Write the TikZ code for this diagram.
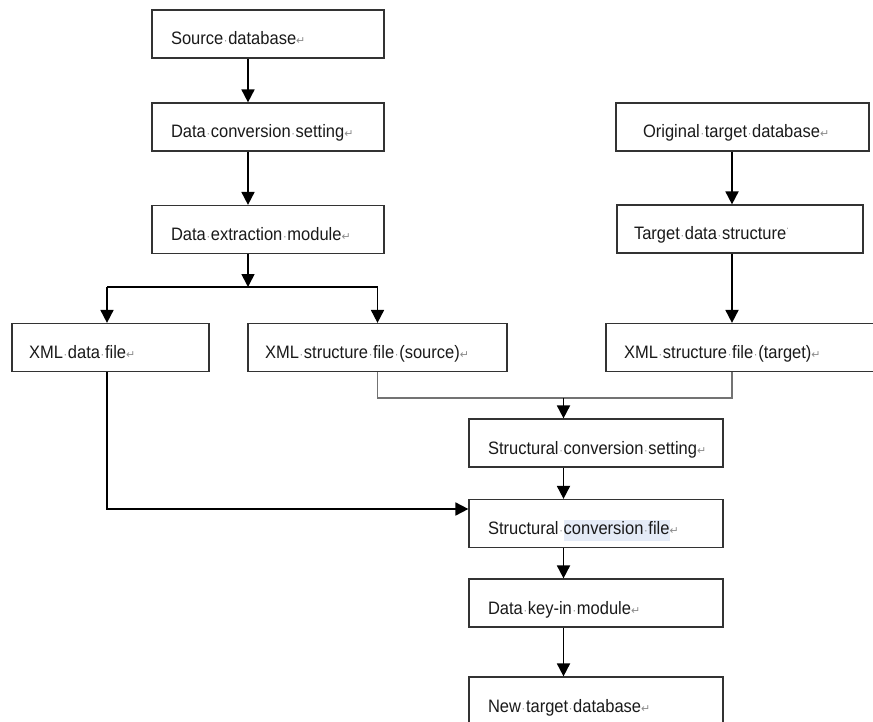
\documentclass[tikz,border=0pt]{standalone}
\usepackage{fontspec}
\setmainfont{Liberation Sans}[FakeStretch=0.917]
\newfontfamily\symfnt{DejaVu Sans}
\usetikzlibrary{arrows.meta}
\definecolor{marks}{gray}{0.55}
\definecolor{txt}{HTML}{1A1A1A}
\definecolor{hlite}{RGB}{228,235,247}
\newcommand\wsp{\makebox[0.278em]{\textcolor{marks}{\fontsize{12}{12}\selectfont ·}}}
\newcommand\retm{\textcolor{marks}{\symfnt\fontsize{11}{11}\selectfont ↵}}
\newcommand\topdot{\textcolor{marks}{\raisebox{0.45em}{\fontsize{10}{10}\selectfont ·}}}
\begin{document}
\begin{tikzpicture}[x=1pt,y=-1pt,
  box/.style={draw=black!80, line width=1.2pt, fill=white, inner ysep=0pt,
    text height=35pt, text depth=13pt, align=left, text=txt,
    font=\fontsize{18}{21}\selectfont},
  arr/.style={draw=black, line width=1.8pt, -{Triangle[length=13pt,width=13pt]}},
  blk/.style={draw=black, line width=1.8pt},
  gline/.style={draw=black!55, line width=1.4pt}]
\useasboundingbox (0,0) rectangle (873,722);
\clip (0,0) rectangle (873,722);
\fill[white] (0,0) rectangle (873,722);

% column coordinates
\coordinate (colL) at (248,0);
\coordinate (colX) at (107,0);
\coordinate (colR) at (732,0);
\coordinate (colM) at (563.5,0);
\coordinate (split) at (248,287);
\coordinate (merge) at (563.5,398);

% left column
\node[box, text width=194pt, inner xsep=19pt] (sd)  at (268,34)    {Source\wsp database\retm};
\node[box, text width=194pt, inner xsep=19pt] (dcs) at (268,127)   {Data\wsp conversion\wsp setting\retm};
\node[box, text width=194pt, inner xsep=19pt] (dem) at (268,229.5) {Data\wsp extraction\wsp module\retm};

% right column
\node[box, text width=199pt, inner xsep=27pt] (otd) at (742.5,127) {Original\wsp target\wsp database\retm};
\node[box, text width=212pt, inner xsep=17pt] (tds) at (740,229)   {Target\wsp data\wsp structure\topdot};

% XML row
\node[box, text width=163pt, inner xsep=17pt] (xdf)  at (110.5,347.5) {XML\wsp data\wsp file\retm};
\node[box, text width=225pt, inner xsep=17pt] (xsrc) at (377.5,347.5) {XML\wsp structure\wsp file\wsp (source)\retm};
\node[box, text width=258pt, inner xsep=18pt] (xtgt) at (753,347.5)   {XML\wsp structure\wsp file\wsp (target)\retm};

% lower column
\node[box, text width=216pt, inner xsep=19pt] (scs) at (596,443)   {Structural\wsp conversion\wsp setting\retm};
\node[box, text width=216pt, inner xsep=19pt] (scf) at (596,523.5) {Structural\wsp{\setlength\fboxsep{0pt}\colorbox{hlite}{\strut conversion\wsp file}}\retm};
\node[box, text width=216pt, inner xsep=19pt] (dki) at (596,603)   {Data\wsp key-in\wsp module\retm};
\node[box, text width=216pt, inner xsep=19pt] (ntd) at (596,701)   {New\wsp target\wsp database\retm};

% connectors, left column
\draw[arr] (sd.south -| colL) -- (dcs.north -| colL);
\draw[arr] (dcs.south -| colL) -- (dem.north -| colL);
\draw[arr] (dem.south -| colL) -- (split);
\draw[blk] (split -| colX) -- (split -| xsrc.north);
\draw[arr] (split -| colX) -- (xdf.north -| colX);
\draw[arr] (split -| xsrc.north) -- (xsrc.north);

% right column
\draw[arr] (otd.south -| colR) -- (tds.north -| colR);
\draw[arr] (tds.south -| colR) -- (xtgt.north -| colR);

% merge of structure files
\draw[gline] (xsrc.south) |- (merge) -| (xtgt.south -| colR);
\draw[arr] (merge) -- (scs.north -| colM);

% data file into conversion file
\draw[arr] (xdf.south -| colX) |- ([yshift=14.5pt]scf.west);

% lower chain
\draw[arr] (scs.south -| colM) -- (scf.north -| colM);
\draw[arr] (scf.south -| colM) -- (dki.north -| colM);
\draw[arr] (dki.south -| colM) -- (ntd.north -| colM);
\end{tikzpicture}
\end{document}
